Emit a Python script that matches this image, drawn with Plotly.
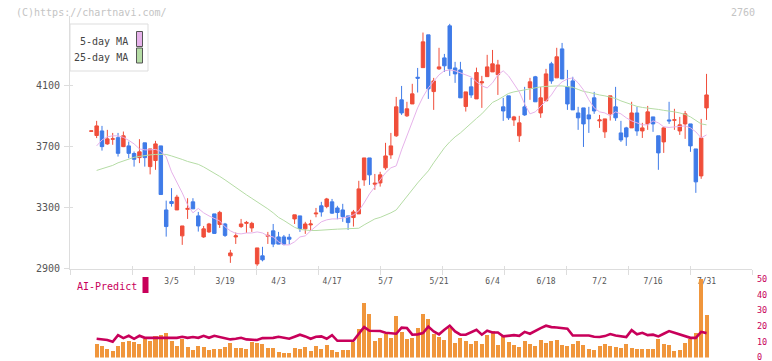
import plotly.graph_objects as go

# ---------------- data ----------------
idx = list(range(116))
date_pos = [15, 25, 35, 45, 55, 65, 75, 85, 95, 105, 115]
date_labels = ["3/5", "3/19", "4/3", "4/17", "5/7", "5/21", "6/4", "6/18", "7/2", "7/16", "7/31"]
price_ticks = [2900, 3300, 3700, 4100]
vol_ticks = [0, 10, 20, 30, 40, 50]

opens = [3800,3772,3802,3717,3748,3758,3699,3704,3654,3627,
         3724,3568,3608,3704,3284,3339,3284,3114,3288,3337,
         3245,3107,3140,3258,3189,3192,2983,3107,3175,3196,
         3166,2930,2983,3111,3147,3107,3107,3105,3225,3245,
         3160,3186,3258,3311,3306,3337,3297,3284,3245,3234,
         3258,3481,3625,3453,3461,3560,3645,3770,4006,3901,
         3979,4154,4217,4432,4060,4209,4281,4491,4215,4202,
         3962,4091,4012,4117,4158,4189,4171,3960,4032,3874,
         3770,3960,4084,4157,3920,3999,4242,4150,4340,4091,
         4130,3920,3953,3907,4019,3868,3796,3914,3960,3789,
         3822,3822,3920,3802,3848,3894,3770,3730,3874,3872,
         3802,3848,3848,3684,3507,3953]
highs = [3803,3868,3835,3809,3789,3789,3798,3732,3667,3748,
         3724,3684,3737,3704,3345,3427,3383,3179,3361,3361,
         3271,3179,3199,3258,3278,3199,3022,3136,3225,3212,
         3206,3035,3042,3140,3192,3140,3120,3127,3252,3245,
         3206,3219,3297,3337,3363,3356,3311,3324,3245,3284,
         3475,3625,3625,3520,3534,3724,3789,4025,4097,3993,
         4111,4215,4447,4432,4150,4347,4307,4504,4255,4255,
         4058,4150,4217,4163,4301,4333,4268,4019,4032,3901,
         3901,4091,4150,4163,4091,4209,4255,4347,4379,4202,
         4157,3960,3953,3960,4058,3907,3881,4032,4091,3868,
         3829,3993,3960,3855,3966,3894,3770,3829,3993,3947,
         3894,3933,3848,3684,3881,4176]
lows = [3799,3755,3673,3711,3711,3634,3696,3623,3568,3591,
        3568,3517,3547,3385,3109,3306,3284,3055,3225,3291,
        3142,3101,3133,3127,3166,3107,2937,3061,3166,3133,
        3140,2917,2947,3061,3040,3059,3052,3059,3192,3140,
        3127,3146,3236,3240,3295,3258,3223,3206,3153,3175,
        3258,3442,3448,3416,3437,3547,3619,3763,3907,3894,
        3979,4054,4217,4012,3940,4202,4189,4163,4117,4019,
        3929,4019,4012,3953,4158,4189,4038,3868,3874,3835,
        3730,3901,4006,3993,3888,3999,4111,4150,4143,3940,
        3940,3809,3697,3789,3914,3822,3756,3870,3868,3730,
        3704,3822,3770,3756,3809,3796,3547,3658,3848,3809,
        3776,3750,3665,3396,3488,3874]
closes = [3802,3835,3699,3750,3750,3655,3770,3655,3616,3665,
          3627,3684,3717,3385,3175,3326,3368,3179,3294,3291,
          3179,3160,3192,3130,3268,3117,3002,3114,3192,3202,
          3196,3035,2957,3117,3060,3060,3059,3092,3252,3162,
          3192,3192,3263,3271,3356,3263,3267,3240,3201,3271,
          3422,3625,3514,3459,3514,3638,3704,3960,3920,3947,
          4045,4148,4386,4078,4130,4222,4229,4209,4176,4019,
          4058,4038,4185,4124,4222,4242,4235,3933,3888,3894,
          3855,3907,4124,3993,4019,4176,4130,4288,4143,3979,
          3940,3888,3848,3881,3933,3874,3881,4032,3888,3743,
          3763,3920,3802,3822,3927,3848,3658,3822,3868,3875,
          3842,3914,3704,3468,3756,4038]

ma5 = [None,3704,3743,3763,3770,3770,3760,3740,3717,3684,
       3678,3678,3681,3668,3632,3534,3468,3396,3317,3265,
       3294,3265,3245,3229,3212,3173,3147,3130,3127,3133,
       3133,3140,3133,3114,3107,3075,3055,3055,3075,3107,
       3114,3147,3179,3206,3219,3225,3225,3232,3238,3252,
       3278,3330,3389,3435,3481,3527,3560,3573,3678,3776,
       3861,3953,4025,4084,4130,4170,4196,4202,4196,4183,
       4170,4156,4124,4097,4084,4117,4170,4196,4163,4111,
       4058,3979,3914,3927,3960,3999,4038,4091,4124,4143,
       4150,4117,4071,4006,3953,3927,3920,3901,3927,3914,
       3888,3868,3855,3842,3842,3868,3855,3829,3825,3829,
       3832,3835,3822,3796,3756,3776]
ma25 = [None,3543,3553,3563,3576,3593,3606,3615,3629,3635,3642,
        3645,3648,3650,3648,3638,3629,3615,3602,3593,3583,
        3566,3547,3527,3504,3481,3455,3429,3406,3383,3360,
        3337,3317,3291,3265,3235,3215,3193,3170,3156,3150,
        3149,3149,3150,3153,3156,3158,3160,3160,3162,3164,
        3186,3206,3225,3235,3248,3265,3284,3330,3370,3416,
        3461,3501,3540,3593,3645,3691,3730,3763,3789,3822,
        3855,3884,3914,3953,3989,4006,4029,4048,4058,4065,
        4074,4081,4084,4091,4094,4097,4097,4097,4094,4088,
        4074,4061,4055,4045,4038,4032,4025,4015,3999,3986,
        3973,3963,3956,3953,3950,3943,3937,3933,3927,3920,
        3910,3894,3868,3848,3842]

volume = [None,8.7,7.5,5.5,4.3,7.5,10.0,10.6,10.0,8.7,11.9,
          10.6,13.8,14.5,15.7,10.6,7.5,11.9,6.8,4.9,7.5,
          6.8,4.9,5.5,5.5,6.8,9.4,6.2,6.2,5.5,10.0,
          9.4,8.7,6.2,6.2,3.6,3.0,3.0,6.2,5.5,6.8,
          4.3,7.5,5.5,8.1,4.9,3.6,4.9,4.9,10.0,18.3,
          34.8,27.8,10.6,12.5,15.1,12.5,26.6,16.4,11.9,12.5,
          18.9,27.8,24.6,15.1,13.2,11.3,18.9,9.4,12.5,10.6,
          8.7,10.6,8.7,14.5,17.0,8.1,14.5,10.0,8.1,6.8,
          10.6,8.7,7.5,11.3,9.4,10.6,11.3,8.1,7.5,8.7,
          10.6,8.1,5.5,4.9,7.5,8.7,7.5,6.8,6.2,8.7,
          6.2,5.5,5.5,5.5,5.5,11.9,8.7,8.1,4.3,4.9,
          9.4,11.9,15.7,50.1,27.2]
ai_predict = [None,11.9,11.5,11.1,10.0,14.2,12.3,13.8,11.9,13.8,12.5,
              12.5,12.5,12.5,12.5,12.5,12.5,13.2,12.5,13.0,12.5,
              13.8,12.5,13.8,13.0,12.1,11.5,11.9,12.5,11.5,11.1,
              11.1,12.3,12.5,12.5,13.2,12.5,11.9,13.2,14.5,13.4,
              11.9,13.2,13.4,11.9,14.2,10.6,10.6,10.6,10.6,15.1,
              19.3,17.0,16.8,16.8,15.7,15.5,15.1,19.0,18.7,14.5,
              14.7,15.5,19.6,16.6,14.7,17.6,20.2,16.6,14.5,14.5,
              15.9,17.6,14.5,17.0,15.9,15.9,13.4,13.8,14.2,13.8,
              16.3,15.1,17.0,18.7,20.2,19.3,19.1,18.9,18.3,14.0,
              14.0,14.0,14.0,13.2,13.0,13.6,14.9,14.0,13.6,13.0,
              17.4,14.7,15.7,14.2,14.5,13.4,15.1,16.8,15.7,14.5,
              13.2,12.5,12.5,16.3,15.5]

# ---------------- styling ----------------
W, H = 772, 361
MONO = "DejaVu Sans Mono"
UP, DOWN = "#f04e3a", "#3f7be8"
PINK, GREEN = "#e6b2ea", "#b5dca5"
ORANGE, CRIMSON = "#f0963c", "#c8005a"
AXC = "#dddddd"

def px(x):
    return x / W

def py(y):
    return 1 - y / H

XD = [px(70), px(752)]
XR = [-3.98, 123.5]

fig = go.Figure()

fig.add_trace(go.Scatter(x=idx, y=ma25, mode="lines", line=dict(color=GREEN, width=1),
                         xaxis="x", yaxis="y", hoverinfo="skip"))
fig.add_trace(go.Scatter(x=idx, y=ma5, mode="lines", line=dict(color=PINK, width=1),
                         xaxis="x", yaxis="y", hoverinfo="skip"))
fig.add_trace(go.Candlestick(
    x=idx, open=opens, high=highs, low=lows, close=closes,
    increasing=dict(line=dict(color=UP, width=1), fillcolor=UP),
    decreasing=dict(line=dict(color=DOWN, width=1), fillcolor=DOWN),
    whiskerwidth=0, xaxis="x", yaxis="y", hoverinfo="skip"))

# helper traces so the overlay tick axes exist
fig.add_trace(go.Scatter(x=[0], y=[3000], mode="markers", marker=dict(opacity=0),
                         xaxis="x3", yaxis="y", hoverinfo="skip"))
fig.add_trace(go.Scatter(x=[0], y=[3000], mode="markers", marker=dict(opacity=0),
                         xaxis="x4", yaxis="y", hoverinfo="skip"))
fig.add_trace(go.Scatter(x=[0], y=[3000], mode="markers", marker=dict(opacity=0),
                         xaxis="x", yaxis="y4", hoverinfo="skip"))

fig.add_trace(go.Bar(x=idx, y=volume, marker=dict(color=ORANGE, line=dict(width=0)),
                     width=0.75, xaxis="x2", yaxis="y2", hoverinfo="skip"))
fig.add_trace(go.Scatter(x=idx, y=ai_predict, mode="lines", line=dict(color=CRIMSON, width=2.6),
                         xaxis="x2", yaxis="y2", hoverinfo="skip"))

YR = [2900, 4555.6]
grid_tick = dict(tickmode="linear", tick0=-3.98, dtick=11.59, showticklabels=False,
                 showline=False, showgrid=False, zeroline=False, tickcolor=AXC, tickwidth=1,
                 range=XR, overlaying="x", anchor="y", automargin=False)

fig.update_layout(
    width=W, height=H, autosize=False,
    margin=dict(l=0, r=0, t=0, b=0, pad=0, autoexpand=False),
    paper_bgcolor="white", plot_bgcolor="rgba(0,0,0,0)",
    showlegend=False, hovermode=False, bargap=0, boxgap=0.08,
    font=dict(family=MONO, size=10, color="#555"),
    xaxis=dict(domain=XD, range=XR, anchor="y", showline=True, linecolor=AXC, linewidth=1,
               showgrid=False, zeroline=False, tickmode="array", tickvals=date_pos,
               ticktext=date_labels, ticks="", ticklabelstandoff=5, automargin=False,
               ticklabeloverflow="allow",
               tickfont=dict(family=MONO, size=8, color="#555"),
               rangeslider=dict(visible=False)),
    xaxis3=dict(ticks="outside", ticklen=5, **grid_tick),
    xaxis4=dict(ticks="inside", ticklen=3, **grid_tick),
    yaxis=dict(domain=[py(268.5), py(16)], range=YR, anchor="x", showline=True,
               linecolor=AXC, linewidth=1, showgrid=False, zeroline=False,
               tickmode="array", tickvals=price_ticks, ticks="outside", ticklen=5,
               tickcolor=AXC, ticklabelstandoff=2, automargin=False,
               ticklabeloverflow="allow",
               tickfont=dict(family=MONO, size=10, color="#555")),
    yaxis4=dict(overlaying="y", anchor="x", side="left", range=YR, tickmode="array",
                tickvals=price_ticks, ticks="inside", ticklen=3, tickcolor=AXC,
                showticklabels=False, showline=False, showgrid=False, zeroline=False,
                automargin=False),
    xaxis2=dict(domain=XD, range=XR, anchor="y2", visible=False, automargin=False),
    yaxis2=dict(domain=[py(357.5), py(277.8)], range=[0, 50.64], anchor="x2", side="right",
                tickmode="array", tickvals=vol_ticks, ticks="", showline=False,
                showgrid=False, zeroline=False, ticklabelstandoff=4, automargin=False,
                ticklabeloverflow="allow",
                tickfont=dict(family=MONO, size=8.5, color=CRIMSON)),
)

# legend box and decorations
shapes = [
    dict(type="rect", xref="paper", yref="paper", x0=px(70), x1=px(148), y0=py(71), y1=py(24),
         line=dict(color=AXC, width=1), fillcolor="white", layer="below"),
    dict(type="rect", xref="paper", yref="paper", x0=px(136.5), x1=px(142.5), y0=py(46.5), y1=py(31.5),
         line=dict(color="#555", width=1), fillcolor=PINK),
    dict(type="rect", xref="paper", yref="paper", x0=px(136.5), x1=px(142.5), y0=py(63), y1=py(48),
         line=dict(color="#555", width=1), fillcolor=GREEN),
    dict(type="rect", xref="paper", yref="paper", x0=px(142.5), x1=px(148.5), y0=py(293), y1=py(277),
         line=dict(width=0), fillcolor=CRIMSON),
]
fig.update_layout(shapes=shapes)

ann = [
    dict(text="(C)https://chartnavi.com/", x=px(14), y=py(12), xanchor="left", yanchor="middle",
         font=dict(family=MONO, size=10, color="#c4c4c4")),
    dict(text="2760", x=px(757), y=py(12), xanchor="right", yanchor="middle",
         font=dict(family=MONO, size=10, color="#c4c4c4")),
    dict(text="5-day MA", x=px(130), y=py(41), xanchor="right", yanchor="middle",
         font=dict(family=MONO, size=10, color="#444")),
    dict(text="25-day MA", x=px(130), y=py(57), xanchor="right", yanchor="middle",
         font=dict(family=MONO, size=10, color="#444")),
    dict(text="AI-Predict", x=px(75), y=py(286), xanchor="left", yanchor="middle",
         font=dict(family=MONO, size=10, color=CRIMSON)),
]
for a in ann:
    a.update(xref="paper", yref="paper", showarrow=False)
fig.update_layout(annotations=ann)

fig.write_html("out.html")
